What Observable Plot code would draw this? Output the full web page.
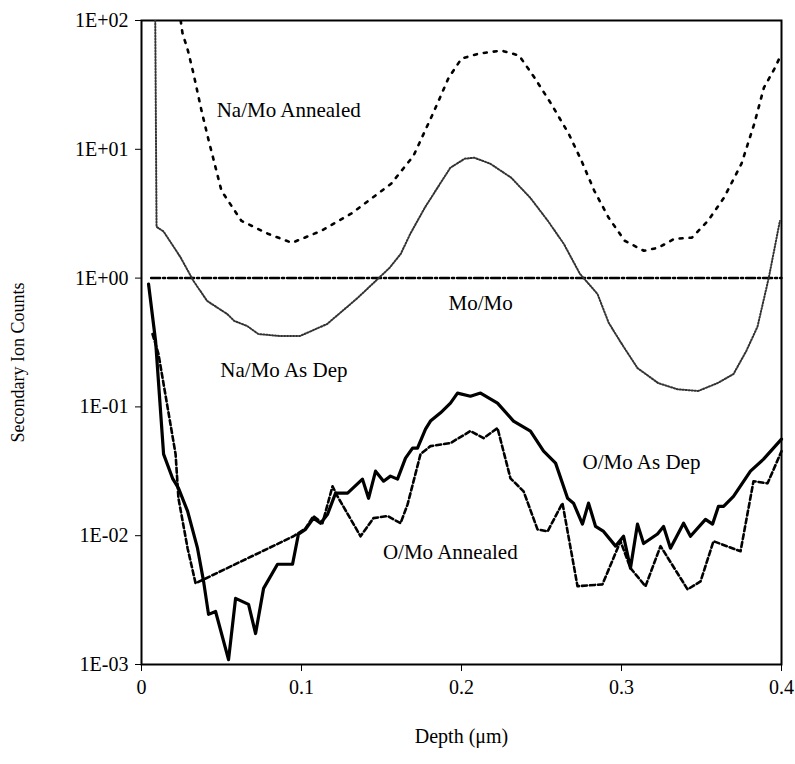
<!DOCTYPE html>
<html>
<head>
<meta charset="utf-8">
<script src="https://cdn.jsdelivr.net/npm/d3@7"></script>
<script src="https://cdn.jsdelivr.net/npm/@observablehq/plot@0.6"></script>
<style>
  body { margin: 0; background: #fff; }
  #chart svg { display: block; }
</style>
</head>
<body>
<div id="chart"></div>
<script>
// ---- tick values and labels ----
const xTicks = [0, 0.1, 0.2, 0.3, 0.4];
const xTickLabels = ["0", "0.1", "0.2", "0.3", "0.4"];
const yTicks = [1e-3, 1e-2, 1e-1, 1e0, 1e1, 1e2];
const yTickLabels = ["1E-03", "1E-02", "1E-01", "1E+00", "1E+01", "1E+02"];

// ---- Na/Mo Annealed ----
const naAnnDepth = [0.0245, 0.0256, 0.029, 0.0325, 0.0375, 0.042, 0.05, 0.0625, 0.079, 0.094, 0.1125, 0.131, 0.156, 0.17, 0.183, 0.192, 0.2, 0.211, 0.225, 0.236, 0.246, 0.256, 0.267, 0.275, 0.283, 0.292, 0.302, 0.314, 0.323, 0.333, 0.344, 0.354, 0.364, 0.375, 0.383, 0.389, 0.396, 0.4];
const naAnnValue = [100, 80, 58.5, 38.7, 19.95, 11.7, 4.76, 2.78, 2.21, 1.88, 2.33, 3.16, 5.4, 8.9, 19.95, 36.0, 50.6, 55.4, 58.4, 53.5, 35.4, 22.6, 13.2, 8.15, 4.76, 2.94, 1.95, 1.63, 1.72, 2.02, 2.06, 2.78, 4.2, 7.73, 15.8, 30.1, 43.1, 55.4];

// ---- Na/Mo As Dep ----
const naDepDepth = [0.0086, 0.0094, 0.0138, 0.0244, 0.0325, 0.041, 0.0535, 0.058, 0.066, 0.073, 0.0865, 0.099, 0.116, 0.135, 0.155, 0.162, 0.168, 0.177, 0.185, 0.193, 0.202, 0.208, 0.218, 0.231, 0.243, 0.254, 0.264, 0.274, 0.285, 0.292, 0.299, 0.31, 0.323, 0.335, 0.348, 0.36, 0.37, 0.378, 0.385, 0.392, 0.399];
const naDepValue = [100, 2.5, 2.3, 1.45, 0.95, 0.665, 0.527, 0.465, 0.425, 0.368, 0.355, 0.355, 0.44, 0.7, 1.2, 1.54, 2.21, 3.51, 5.03, 7.19, 8.45, 8.6, 7.73, 6.03, 4.2, 2.78, 1.84, 1.08, 0.753, 0.45, 0.325, 0.2, 0.153, 0.137, 0.133, 0.153, 0.18, 0.272, 0.42, 1.0, 2.78];

// ---- Mo/Mo ----
const moDepth = [0.006, 0.05, 0.1, 0.15, 0.2, 0.25, 0.3, 0.35, 0.4];
const moValue = [1.0, 1.0, 1.0, 1.0, 1.0, 1.0, 1.0, 1.0, 1.0];

// ---- O/Mo As Dep ----
const oDepDepth = [0.0044, 0.0088, 0.0138, 0.0194, 0.0231, 0.0288, 0.035, 0.0388, 0.0419, 0.0463, 0.0544, 0.0588, 0.0669, 0.0713, 0.0763, 0.085, 0.0944, 0.0981, 0.1025, 0.1075, 0.1119, 0.1163, 0.1213, 0.1288, 0.1381, 0.1419, 0.1463, 0.1513, 0.1556, 0.16, 0.165, 0.1694, 0.1725, 0.1775, 0.1806, 0.1869, 0.1931, 0.1975, 0.2056, 0.2119, 0.2225, 0.2325, 0.2431, 0.2513, 0.2588, 0.2663, 0.27, 0.2756, 0.2794, 0.2838, 0.2888, 0.2963, 0.3013, 0.3056, 0.31, 0.3138, 0.3225, 0.3263, 0.3306, 0.3388, 0.3431, 0.3525, 0.3569, 0.3606, 0.3638, 0.37, 0.3806, 0.3888, 0.4];
const oDepValue = [0.90, 0.325, 0.043, 0.0279, 0.0234, 0.0155, 0.0080, 0.00442, 0.00245, 0.00258, 0.00109, 0.00326, 0.00293, 0.00174, 0.0039, 0.0060, 0.0060, 0.0103, 0.0112, 0.0137, 0.0125, 0.0147, 0.0214, 0.0214, 0.0275, 0.0195, 0.0317, 0.0265, 0.029, 0.0275, 0.040, 0.0479, 0.0479, 0.0672, 0.0776, 0.09, 0.107, 0.128, 0.121, 0.128, 0.107, 0.0776, 0.0649, 0.0453, 0.0366, 0.0195, 0.0179, 0.0123, 0.0179, 0.0118, 0.0108, 0.0083, 0.0099, 0.0056, 0.0123, 0.0087, 0.0103, 0.0118, 0.0080, 0.0125, 0.0099, 0.0134, 0.0123, 0.0169, 0.0169, 0.0202, 0.0317, 0.0393, 0.0562];

// ---- O/Mo Annealed ----
const oAnnDepth = [0.0069, 0.0106, 0.0213, 0.0231, 0.0288, 0.0338, 0.095, 0.1025, 0.1075, 0.1131, 0.1194, 0.1225, 0.1369, 0.145, 0.1538, 0.1619, 0.1663, 0.1744, 0.1806, 0.1931, 0.2056, 0.2138, 0.2225, 0.2306, 0.2388, 0.2475, 0.2538, 0.2631, 0.2725, 0.2881, 0.2994, 0.3056, 0.315, 0.3244, 0.3413, 0.3494, 0.3575, 0.3744, 0.3825, 0.3913, 0.4];
const oAnnValue = [0.368, 0.2575, 0.043, 0.0195, 0.0080, 0.00427, 0.0099, 0.0114, 0.0142, 0.0125, 0.0242, 0.0202, 0.0099, 0.0137, 0.0142, 0.0125, 0.0175, 0.043, 0.0496, 0.0524, 0.0649, 0.0572, 0.0685, 0.0279, 0.0221, 0.0112, 0.0108, 0.0179, 0.00405, 0.00419, 0.00906, 0.0056, 0.00405, 0.0083, 0.00383, 0.00442, 0.00906, 0.00757, 0.0265, 0.0255, 0.0453];

// ---- in-plot labels ----
const labelText = ["Na/Mo Annealed", "Mo/Mo", "Na/Mo As Dep", "O/Mo As Dep", "O/Mo Annealed"];
const labelDepth = [0.092, 0.212, 0.089, 0.3125, 0.193];
const labelValue = [20, 0.635, 0.192, 0.037, 0.0074];

const xTitle = "Depth (\u03bcm)";
const yTitle = "Secondary Ion Counts";

const toRows = (xs, ys) => xs.map((x, i) => ({x, y: ys[i]}));
const labels = labelText.map((t, i) => ({t, x: labelDepth[i], y: labelValue[i]}));

const chart = Plot.plot({
  width: 795,
  height: 764,
  marginLeft: 141,
  marginRight: 14,
  marginTop: 20,
  marginBottom: 100,
  style: {fontFamily: "'Liberation Serif', 'Times New Roman', serif", fontSize: "20px", color: "black", background: "white"},
  x: {domain: [0, 0.4]},
  y: {type: "log", domain: [1e-3, 1e2]},
  marks: [
    Plot.axisX({ticks: xTicks, tickFormat: (d) => xTickLabels[xTicks.indexOf(d)], tickSize: 7, tickPadding: 8, label: null, fontSize: 20}),
    Plot.axisY({ticks: yTicks, tickFormat: (d) => yTickLabels[yTicks.findIndex(v => Math.abs(Math.log10(v) - Math.log10(d)) < 1e-6)], tickSize: 6, tickPadding: 7, label: null, fontSize: 20}),
    Plot.frame({stroke: "black", strokeWidth: 2}),
    Plot.line(toRows(moDepth, moValue), {x: "x", y: "y", stroke: "black", strokeWidth: 2.5, strokeDasharray: "9,3,2,3"}),
    Plot.line(toRows(naAnnDepth, naAnnValue), {x: "x", y: "y", stroke: "black", strokeWidth: 2.6, strokeDasharray: "3,7", clip: true}),
    Plot.line(toRows(naDepDepth, naDepValue), {x: "x", y: "y", stroke: "#333", strokeWidth: 2, strokeDasharray: "1.2,1.8", clip: true}),
    Plot.line(toRows(oAnnDepth, oAnnValue), {x: "x", y: "y", stroke: "black", strokeWidth: 2.6, strokeDasharray: "5,3"}),
    Plot.line(toRows(oDepDepth, oDepValue), {x: "x", y: "y", stroke: "black", strokeWidth: 3.2}),
    Plot.text(labels, {x: "x", y: "y", text: "t", fontSize: 21, fill: "black"}),
    Plot.text([xTitle], {frameAnchor: "bottom", dy: 78, fontSize: 20, fill: "black"}),
    Plot.text([yTitle], {frameAnchor: "left", textAnchor: "middle", rotate: -90, dx: -123, dy: 20, fontSize: 18, fill: "black"})
  ]
});
document.getElementById("chart").appendChild(chart);
</script>
</body>
</html>
